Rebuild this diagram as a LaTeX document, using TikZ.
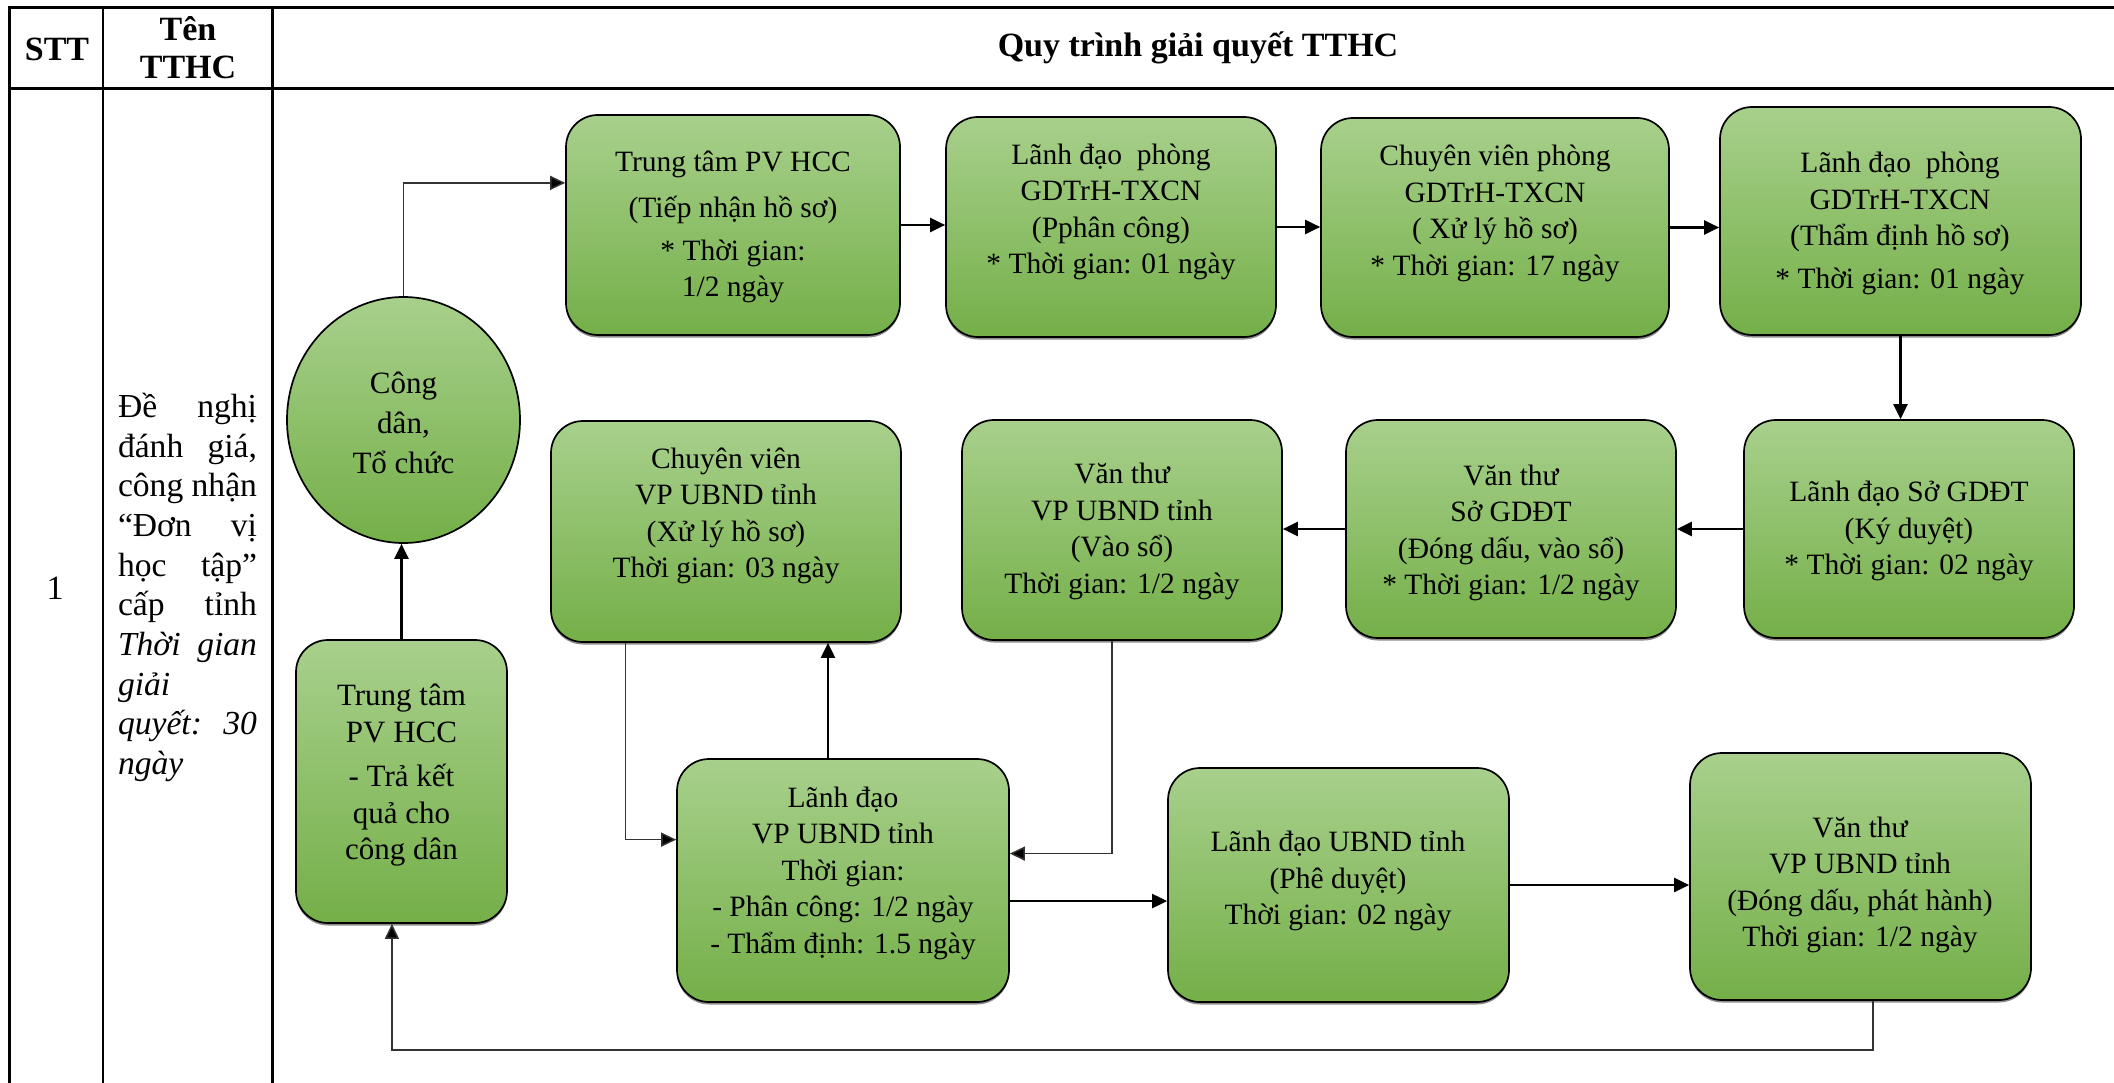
\documentclass[tikz,border=0pt]{standalone}
\usepackage{fontspec}
\setmainfont{Liberation Serif}
\usetikzlibrary{arrows.meta,calc,shapes.geometric,shadows}
\definecolor{gtop}{RGB}{168,208,140}
\definecolor{gbot}{RGB}{116,175,72}
\begin{document}
\begin{tikzpicture}[x=1pt,y=-1pt,
  tbl/.style={line width=2.8pt, black},
  gbox/.style={draw=black, line width=1.7pt, rounded corners=32pt, top color=gtop, bottom color=gbot, inner sep=0pt,
     drop shadow={shadow xshift=0pt, shadow yshift=-2.5pt, fill=black, opacity=0.45}},
  gell/.style={ellipse, draw=black, line width=1.7pt, top color=gtop, bottom color=gbot, inner sep=0pt},
  btxt/.style={align=center, font=\fontsize{29.5pt}{36.5pt}\selectfont, inner sep=0pt},
  bigtxt/.style={align=center, font=\fontsize{31pt}{38pt}\selectfont, inner sep=0pt},
  hdr/.style={align=center, font=\fontsize{34pt}{38pt}\selectfont\bfseries, inner sep=0pt},
  arr/.style={-{Triangle[length=15pt,width=14pt]}, line width=2.3pt},
  thinarr/.style={-{Triangle[length=15pt,width=14pt,fill=black]}, line width=1.5pt, draw=black!80},
]
\useasboundingbox (0,0) rectangle (2114,1083);
\fill[white] (0,0) rectangle (2114,1083);

% table
\draw[tbl] (2114,7.5) -- (9.5,7.5) -- (9.5,1083);
\draw[tbl] (9.5,88.5) -- (2114,88.5);
\draw[tbl] (103,7.5) -- (103,1083);
\draw[tbl] (272.5,7.5) -- (272.5,1083);

\node[hdr] (hSTT) at (57,49) {STT};
\node[hdr] (hTen) at (188,48) {Tên\\TTHC};
\node[hdr] (hQT) at (1198,48) {Quy trình giải quyết TTHC};
\node[align=center, font=\fontsize{34pt}{40pt}\selectfont, inner sep=0pt] (num) at (55,588) {1};
\node[anchor=center, text width=139pt, align=left, font=\fontsize{33.6pt}{39.7pt}\selectfont, inner sep=0pt] (tthc) at (187.5,587.5)
 {Đề\hfill nghị\\đánh\hfill giá,\\công\hfill nhận\\“Đơn\hfill vị\\học\hfill tập”\\cấp\hfill tỉnh\\\textit{Thời}\hfill\textit{gian}\\\textit{giải}\\\textit{quyết:}\hfill\textit{30}\\\textit{ngày}};

% ellipse and left box
\node[gell, minimum width=233pt, minimum height=246pt] (E) at (403.5,420) {};
\node[bigtxt] (Et) at (403.5,423) {Công\\[2pt]dân,\\[2pt]Tổ chức};
\node[gbox, minimum width=211pt, minimum height=283pt] (L) at (401.5,781.5) {};
\node[bigtxt, font=\fontsize{31pt}{36.5pt}\selectfont] (Lt) at (401.5,775.5) {Trung tâm\\PV HCC\\[8pt]- Trả kết\\quả cho\\công dân};

% row 1
\node[gbox, minimum width=334pt, minimum height=220pt] (B1) at (733,225) {};
\node[gbox, minimum width=330pt, minimum height=220pt] (B2) at (1111,227) {};
\node[gbox, minimum width=348pt, minimum height=219pt] (B3) at (1495,227.5) {};
\node[gbox, minimum width=361pt, minimum height=228pt] (B4) at (1900.5,221) {};
\node[btxt] (B1t) at (733,227) {Trung tâm PV HCC\\[10pt](Tiếp nhận hồ sơ)\\[6pt]* Thời gian:\\1/2 ngày};
\node[btxt] (B2t) at (1111,212) {Lãnh đạo\ \ phòng\\GDTrH-TXCN\\(Pphân công)\\* Thời gian: 01 ngày};
\node[btxt] (B3t) at (1495,213.5) {Chuyên viên phòng\\GDTrH-TXCN\\( Xử lý hồ sơ)\\* Thời gian: 17 ngày};
\node[btxt] (B4t) at (1900,223.5) {Lãnh đạo\ \ phòng\\GDTrH-TXCN\\(Thẩm định hồ sơ)\\[6pt]* Thời gian: 01 ngày};

% row 2
\node[gbox, minimum width=350pt, minimum height=221pt] (C1) at (726,531.5) {};
\node[gbox, minimum width=320pt, minimum height=220pt] (C2) at (1122,530) {};
\node[gbox, minimum width=330pt, minimum height=218pt] (C3) at (1511,529) {};
\node[gbox, minimum width=330pt, minimum height=218pt] (C4) at (1909,529) {};
\node[btxt] (C1t) at (726,516) {Chuyên viên\\VP UBND tỉnh\\(Xử lý hồ sơ)\\Thời gian: 03 ngày};
\node[btxt] (C2t) at (1122,531.5) {Văn thư\\VP UBND tỉnh\\(Vào sổ)\\Thời gian: 1/2 ngày};
\node[btxt] (C3t) at (1511,533) {Văn thư\\Sở GDĐT\\(Đóng dấu, vào sổ)\\* Thời gian: 1/2 ngày};
\node[btxt] (C4t) at (1909,531) {Lãnh đạo Sở GDĐT\\(Ký duyệt)\\* Thời gian: 02 ngày};

% row 3
\node[gbox, minimum width=332pt, minimum height=243pt] (D1) at (843,880.5) {};
\node[gbox, minimum width=341pt, minimum height=234pt] (D2) at (1338.5,885) {};
\node[gbox, minimum width=341pt, minimum height=247pt] (D3) at (1860.5,876.5) {};
\node[btxt] (D1t) at (843,873) {Lãnh đạo\\VP UBND tỉnh\\Thời gian:\\- Phân công: 1/2 ngày\\- Thẩm định: 1.5 ngày};
\node[btxt] (D2t) at (1338,881) {Lãnh đạo UBND tỉnh\\(Phê duyệt)\\Thời gian: 02 ngày};
\node[btxt] (D3t) at (1860,885) {Văn thư\\VP UBND tỉnh\\(Đóng dấu, phát hành)\\Thời gian: 1/2 ngày};

% connectors
\draw[thinarr] (E.north) |- ($(B1.north west)!0.31!(B1.south west)$);
\draw[arr] (B1.east) -- (B1.east -| B2.west);
\draw[arr] (B2.east) -- (B2.east -| B3.west);
\draw[arr] (B3.east) -- (B3.east -| B4.west);
\draw[arr] (B4.south) -- (B4.south |- C4.north);
\draw[arr] (C4.west) -- (C4.west -| C3.east);
\draw[arr] (C3.west) -- (C3.west -| C2.east);
\draw[thinarr] ($(C2.south west)!0.469!(C2.south east)$) |- ($(D1.north east)!0.39!(D1.south east)$);
\draw[thinarr] ($(C1.south west)!0.214!(C1.south east)$) |- ($(D1.north west)!0.333!(D1.south west)$);
\draw[arr, line width=2pt] ($(D1.north west)!0.455!(D1.north east)$) coordinate (d1t) -- (d1t |- C1.south);
\draw[arr] ($(D1.north east)!0.584!(D1.south east)$) coordinate (d1r) -- (d1r -| D2.west);
\draw[arr] (D2.east) -- (D2.east -| D3.west);
\coordinate (ret) at ($(L.south west)!0.455!(L.south east) + (0,126)$);
\draw[thinarr] ($(D3.south west)!0.537!(D3.south east)$) |- (ret) -- (ret |- L.south);
\draw[arr] (L.north) -- (L.north |- E.south);
\end{tikzpicture}
\end{document}
